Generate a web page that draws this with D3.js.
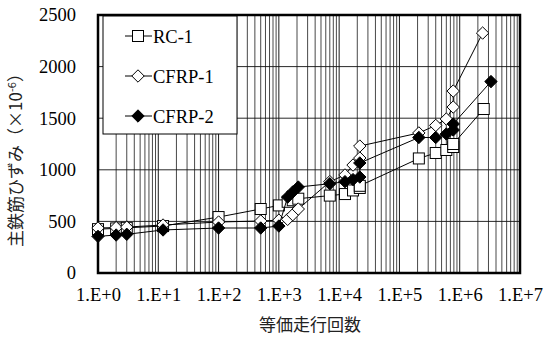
<!DOCTYPE html>
<html>
<head>
<meta charset="utf-8">
<script src="https://cdn.jsdelivr.net/npm/d3@7"></script>
<style>
  body { margin: 0; background: #fff; }
  svg { display: block; }
  .tick-label { font-family: "Liberation Serif", "DejaVu Serif", serif; font-size: 18.5px; fill: #000; }
  .jp { font-family: "Noto Sans CJK JP", sans-serif; font-size: 17px; fill: #222; }
</style>
</head>
<body>
<div id="chart"></div>
<script>
// series data (equivalent running cycles / main rebar strain x10^-6)
const rcCycles = [1, 2, 3, 12, 100, 500, 1000, 1400, 1700, 2100, 7000, 12500, 17000, 22000, 22000, 210000, 400000, 600000, 780000, 780000, 2500000];
const rcStrain = [425, 432, 438, 455, 542, 620, 655, 690, 705, 720, 750, 765, 800, 824, 845, 1110, 1163, 1192, 1221, 1250, 1589];

const cfrp1Cycles = [1, 2, 3, 12, 100, 500, 1000, 1400, 1700, 2100, 7000, 12500, 17000, 22000, 22000, 210000, 400000, 600000, 780000, 780000, 2400000];
const cfrp1Strain = [436, 440, 445, 465, 494, 504, 512, 520, 565, 620, 885, 950, 1046, 1114, 1230, 1357, 1430, 1492, 1608, 1763, 2325];

const cfrp2Cycles = [1, 2, 3, 12, 100, 500, 1000, 1400, 1700, 2100, 7000, 12500, 17000, 22000, 22000, 210000, 400000, 600000, 780000, 780000, 3300000];
const cfrp2Strain = [355, 368, 375, 417, 436, 436, 455, 736, 785, 833, 865, 885, 905, 930, 1066, 1313, 1313, 1347, 1386, 1444, 1855];

const seriesNames = ["RC-1", "CFRP-1", "CFRP-2"];
const xTickValues = [1, 10, 100, 1000, 10000, 100000, 1000000, 10000000];
const xTickLabels = ["1.E+0", "1.E+1", "1.E+2", "1.E+3", "1.E+4", "1.E+5", "1.E+6", "1.E+7"];
const yTickValues = [0, 500, 1000, 1500, 2000, 2500];

const width = 544, height = 338;
const margin = { top: 15, right: 24, bottom: 65, left: 98 };
const plotW = width - margin.left - margin.right;
const plotH = height - margin.top - margin.bottom;

const svg = d3.select("#chart").append("svg")
  .attr("width", width)
  .attr("height", height);

const x = d3.scaleLog().domain([1, 1e7]).range([margin.left, margin.left + plotW]);
const y = d3.scaleLinear().domain([0, 2500]).range([margin.top + plotH, margin.top]);

// gridlines: every integer multiple within each decade
const gridX = [];
for (let d = 1; d < 1e7; d *= 10) {
  for (let k = 1; k < 10; k++) gridX.push(d * k);
}
gridX.push(1e7);

svg.append("g").selectAll("line")
  .data(gridX)
  .enter().append("line")
    .attr("x1", d => x(d)).attr("x2", d => x(d))
    .attr("y1", y(0)).attr("y2", y(2500))
    .attr("stroke", (d, i) => i % 9 === 0 ? "#000" : "#333")
    .attr("stroke-width", 0.9);

svg.append("g").selectAll("line")
  .data(yTickValues)
  .enter().append("line")
    .attr("x1", x(1)).attr("x2", x(1e7))
    .attr("y1", d => y(d)).attr("y2", d => y(d))
    .attr("stroke", "#111")
    .attr("stroke-width", 0.9);

// axes
const xAxis = d3.axisBottom(x)
  .tickValues(xTickValues)
  .tickFormat((d, i) => xTickLabels[i])
  .tickSize(0)
  .tickPadding(15);
const gx = svg.append("g")
  .attr("transform", `translate(0,${y(0)})`)
  .call(xAxis);
gx.select(".domain").remove();
gx.selectAll("text").attr("class", "tick-label").attr("font-size", null).attr("font-family", null);

const yAxis = d3.axisLeft(y)
  .tickValues(yTickValues)
  .tickFormat(d3.format("d"))
  .tickSize(0)
  .tickPadding(22);
const gy = svg.append("g")
  .attr("transform", `translate(${x(1)},0)`)
  .call(yAxis);
gy.select(".domain").remove();
gy.selectAll("text").attr("class", "tick-label").attr("font-size", null).attr("font-family", null);

// plot border
svg.append("rect")
  .attr("x", x(1)).attr("y", y(2500))
  .attr("width", x(1e7) - x(1)).attr("height", y(0) - y(2500))
  .attr("fill", "none")
  .attr("stroke", "#000")
  .attr("stroke-width", 2.5);

// markers
const diamond = d3.symbol().type(d3.symbolDiamond2).size(98);
function drawMarker(g, kind) {
  if (kind === "square") {
    g.append("rect")
      .attr("x", -5.5).attr("y", -5.5).attr("width", 11).attr("height", 11)
      .attr("fill", "#fff").attr("stroke", "#000").attr("stroke-width", 1);
  } else {
    g.append("path")
      .attr("d", diamond)
      .attr("fill", kind === "open" ? "#fff" : "#000")
      .attr("stroke", "#000").attr("stroke-width", 1);
  }
}

const series = [
  { name: seriesNames[0], cycles: rcCycles, strain: rcStrain, marker: "square" },
  { name: seriesNames[1], cycles: cfrp1Cycles, strain: cfrp1Strain, marker: "open" },
  { name: seriesNames[2], cycles: cfrp2Cycles, strain: cfrp2Strain, marker: "filled" }
];

const line = d3.line().x(p => x(p[0])).y(p => y(p[1]));

series.forEach(s => {
  const pts = s.cycles.map((c, i) => [c, s.strain[i]]);
  const g = svg.append("g");
  g.append("path")
    .attr("d", line(pts))
    .attr("fill", "none")
    .attr("stroke", "#000")
    .attr("stroke-width", 1);
  pts.forEach(p => {
    const m = g.append("g").attr("transform", `translate(${x(p[0])},${y(p[1])})`);
    drawMarker(m, s.marker);
  });
});

// legend
const legend = svg.append("g");
legend.append("rect")
  .attr("x", 103).attr("y", 16)
  .attr("width", 134).attr("height", 118)
  .attr("fill", "#fff")
  .attr("stroke", "#000")
  .attr("stroke-width", 1);

series.forEach((s, i) => {
  const ly = 36 + i * 40;
  const item = legend.append("g").attr("transform", `translate(0,${ly})`);
  item.append("line")
    .attr("x1", 125).attr("x2", 152)
    .attr("stroke", "#000").attr("stroke-width", 1);
  const m = item.append("g").attr("transform", "translate(138,0)");
  drawMarker(m, s.marker);
  item.append("text")
    .attr("class", "tick-label")
    .attr("x", 153).attr("y", 6.5)
    .text(s.name);
});

// axis titles
svg.append("text")
  .attr("class", "jp")
  .attr("x", x(Math.sqrt(1e7)) + 1)
  .attr("y", 331)
  .attr("text-anchor", "middle")
  .text("等価走行回数");

const yTitle = svg.append("text")
  .attr("class", "jp")
  .attr("transform", `translate(22,${margin.top + plotH / 2 + 12}) rotate(-90)`)
  .attr("text-anchor", "middle");
yTitle.append("tspan").text("主鉄筋ひずみ（×10");
yTitle.append("tspan").attr("font-size", "11px").attr("dy", -6).text("-6");
yTitle.append("tspan").attr("dy", 6).text("）");
</script>
</body>
</html>
